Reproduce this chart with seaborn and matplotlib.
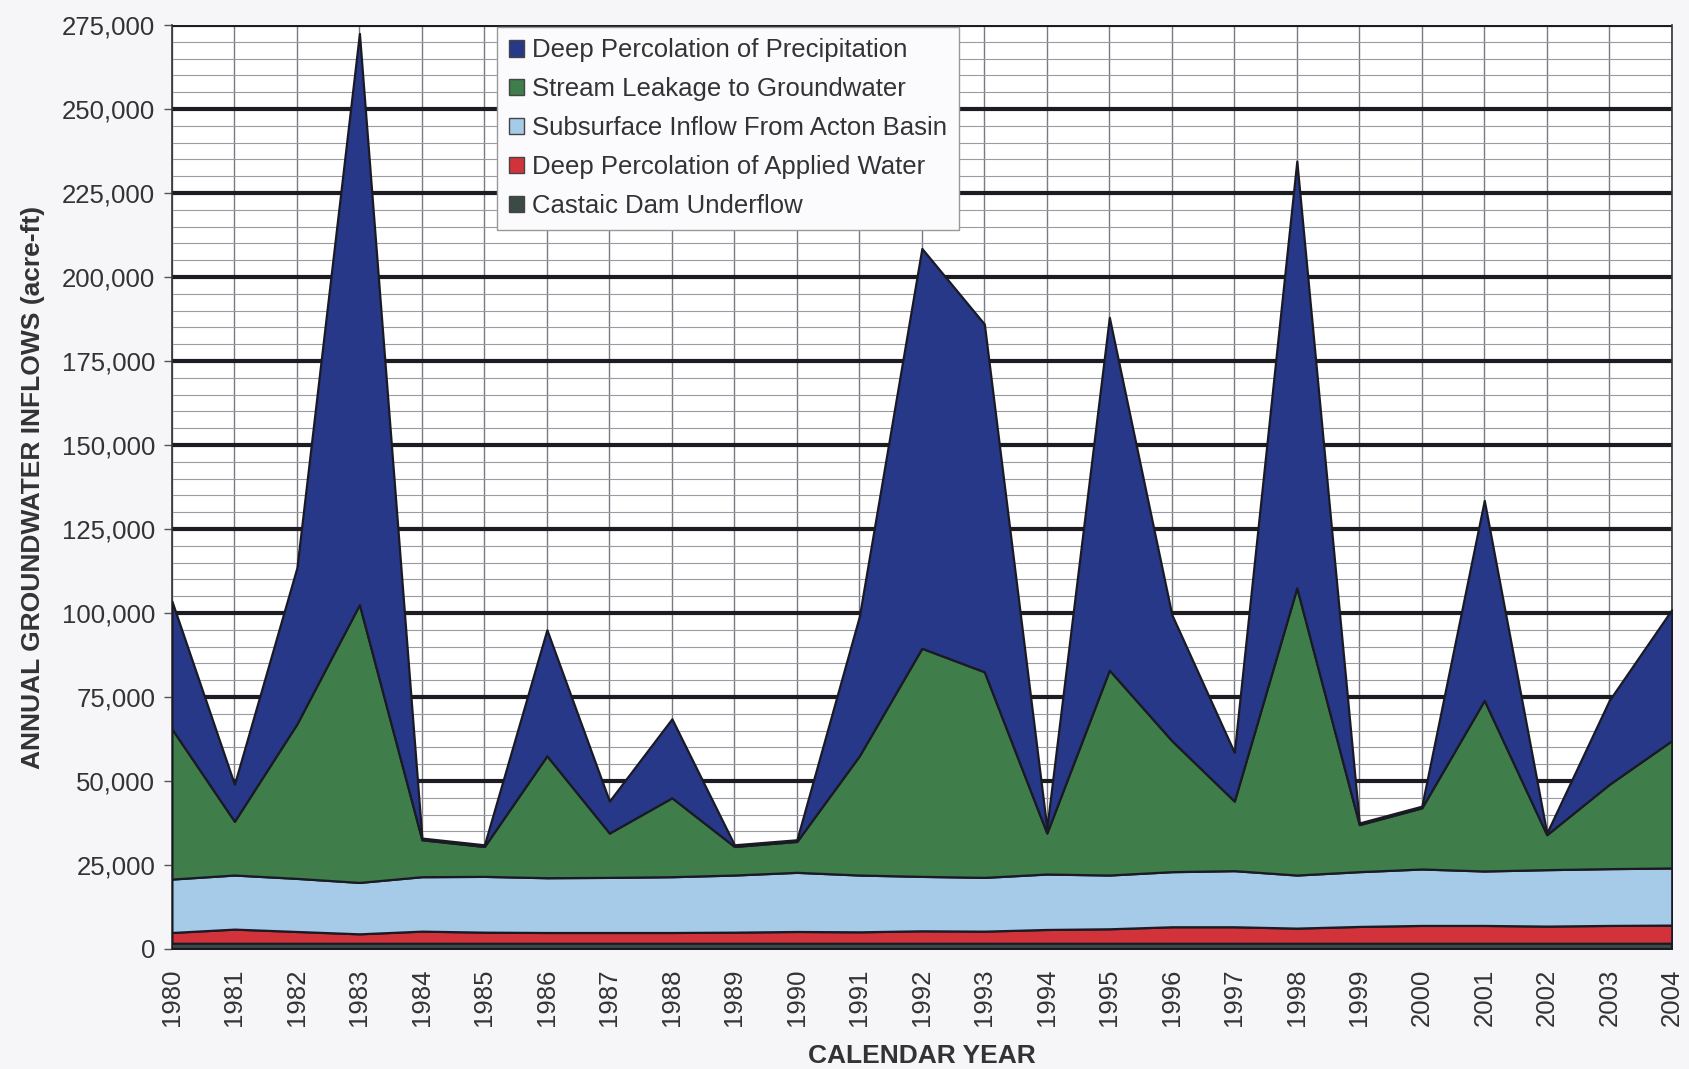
import numpy as np
import pandas as pd
import matplotlib
matplotlib.use("Agg")
import matplotlib.pyplot as plt
import seaborn as sns
from matplotlib.patches import Patch
from matplotlib.ticker import MultipleLocator, FuncFormatter

# --- données (acre-ft / an) ---
annees = list(range(1980, 2005))
castaic = [1700] * 25
eau_appliquee = [3200, 4200, 3500, 2800, 3600, 3300, 3200, 3200, 3200, 3300,
                 3500, 3400, 3700, 3600, 4100, 4300, 4900, 4900, 4500, 5000,
                 5300, 5300, 5100, 5300, 5400]
acton = [15900, 16100, 15800, 15300, 16200, 16600, 16300, 16400, 16600, 17000,
         17600, 16900, 16200, 16000, 16500, 16000, 16400, 16700, 15800, 16300,
         16800, 16200, 16800, 16900, 17000]
ruisseau = [44700, 16000, 46000, 82700, 11000, 8900, 36300, 13200, 23500, 8500,
            9200, 35500, 67900, 61200, 12200, 61000, 39000, 20700, 85500, 14000,
            18200, 50800, 10400, 25100, 37900]
precip = [38000, 11000, 46500, 170000, 500, 500, 37500, 9500, 23500, 500,
          500, 41500, 119000, 103500, 1500, 105000, 37500, 14500, 127000, 500,
          500, 59500, 500, 25000, 39000]

noms = ["Castaic Dam Underflow",
        "Deep Percolation of Applied Water",
        "Subsurface Inflow From Acton Basin",
        "Stream Leakage to Groundwater",
        "Deep Percolation of Precipitation"]
couleurs = ["#3c4a46", "#d2333b", "#a6cbe8", "#3f7d4b", "#283888"]

df = pd.DataFrame({"Annee": annees, noms[0]: castaic, noms[1]: eau_appliquee,
                   noms[2]: acton, noms[3]: ruisseau, noms[4]: precip})

sns.set_theme(style="white")
plt.rcParams['font.family'] = ['Liberation Sans', 'DejaVu Sans']

fig = plt.figure(figsize=(16.89, 10.69), dpi=100, facecolor="#f6f6f9")
ax = fig.add_axes([0.1018, 0.1123, 0.888, 0.8643])
ax.set_facecolor("white")

ax.stackplot(df["Annee"], [df[n] for n in noms], colors=couleurs,
             edgecolor="#1a1a24", linewidth=1.6, zorder=3)

# grille : majeure noire épaisse, mineure fine
ax.set_xlim(1980, 2004)
ax.set_ylim(0, 275000)
ax.yaxis.set_major_locator(MultipleLocator(25000))
ax.yaxis.set_minor_locator(MultipleLocator(5000))
ax.grid(which="major", axis="y", color="#1c1c22", linewidth=3.0, zorder=1)
ax.grid(which="minor", axis="y", color="#9a9aa2", linewidth=0.8, zorder=1)
ax.grid(which="major", axis="x", color="#7a7a82", linewidth=1.0, zorder=1)
ax.set_axisbelow(True)

ax.yaxis.set_major_formatter(FuncFormatter(lambda v, p: f"{int(v):,}"))
ax.set_xticks(annees)
ax.set_xticklabels([str(a) for a in annees], rotation=90)
ax.tick_params(axis="y", which="major", direction="out", length=6, width=1,
               color="#555", labelsize=18.5, labelcolor="#333", pad=6, left=True)
ax.tick_params(axis="y", which="minor", left=False)
ax.tick_params(axis="x", labelsize=18.5, labelcolor="#333", pad=8, bottom=False)

for cote in ["left", "right", "bottom"]:
    ax.spines[cote].set_color("#333")
    ax.spines[cote].set_linewidth(1.2)
ax.spines["top"].set_visible(False)

ax.set_xlabel("CALENDAR YEAR", fontsize=19, fontweight="bold", color="#333",
              labelpad=13)
ax.set_ylabel("ANNUAL GROUNDWATER INFLOWS (acre-ft)", fontsize=19,
              fontweight="bold", color="#333", labelpad=12)

poignees = [Patch(facecolor=c, edgecolor="#444", label=n)
            for n, c in zip(noms[::-1], couleurs[::-1])]
leg = ax.legend(handles=poignees, loc="upper left", bbox_to_anchor=(0.217, 0.998),
                borderaxespad=0, fontsize=18.5, handlelength=0.6, handleheight=0.6,
                handletextpad=0.3, labelspacing=0.58, borderpad=0.45,
                frameon=True, fancybox=False, framealpha=1)
leg.get_frame().set_edgecolor("#999")
leg.get_frame().set_facecolor("#fbfbfd")
leg.set_zorder(5)
for t in leg.get_texts():
    t.set_color("#333")

plt.savefig("out.png", dpi=100, facecolor=fig.get_facecolor())
plt.close(fig)
